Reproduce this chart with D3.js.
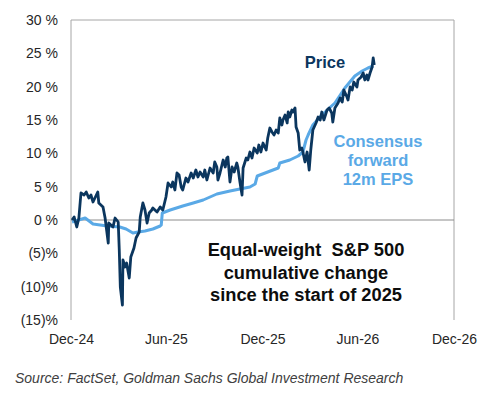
<!DOCTYPE html>
<html>
<head>
<meta charset="utf-8">
<script src="https://cdn.jsdelivr.net/npm/d3@7"></script>
<style>
  body { margin: 0; background: #fff; }
  text { font-family: "Liberation Sans", Arial, sans-serif; }
</style>
</head>
<body>
<script>
// Equal-weight S&P 500, cumulative % change since start of 2025
const priceDates = [
  "2025-01-02","2025-01-06","2025-01-11","2025-01-15","2025-01-19","2025-01-25","2025-01-29","2025-02-03","2025-02-07","2025-02-11",
  "2025-02-20","2025-02-22","2025-03-02","2025-03-06","2025-03-12","2025-03-13","2025-03-21","2025-03-25","2025-03-31","2025-04-02",
  "2025-04-04","2025-04-08","2025-04-09","2025-04-13","2025-04-16","2025-04-21","2025-04-24","2025-04-30","2025-05-04","2025-05-10",
  "2025-05-12","2025-05-17","2025-05-21","2025-05-25","2025-05-29","2025-06-03","2025-06-05","2025-06-13","2025-06-19","2025-06-24",
  "2025-06-30","2025-07-04","2025-07-10","2025-07-13","2025-07-17","2025-07-21","2025-07-25","2025-07-29","2025-08-01","2025-08-07",
  "2025-08-11","2025-08-17","2025-08-21","2025-08-26","2025-08-30","2025-09-03","2025-09-09","2025-09-12","2025-09-16","2025-09-22",
  "2025-09-28","2025-10-01","2025-10-05","2025-10-07","2025-10-11","2025-10-17","2025-10-21","2025-10-24","2025-10-26","2025-10-30",
  "2025-11-03","2025-11-07","2025-11-12","2025-11-14","2025-11-18","2025-11-22","2025-11-24","2025-11-30","2025-12-03","2025-12-07",
  "2025-12-11","2025-12-15","2025-12-21","2025-12-24","2025-12-28","2026-01-01","2026-01-07","2026-01-10","2026-01-14","2026-01-18",
  "2026-01-22","2026-01-26","2026-01-30","2026-02-02","2026-02-06","2026-02-08","2026-02-12","2026-02-16","2026-02-18","2026-02-21",
  "2026-02-25","2026-02-27","2026-03-03","2026-03-05","2026-03-09","2026-03-12","2026-03-16","2026-03-18","2026-03-22","2026-03-26",
  "2026-03-30","2026-04-02","2026-04-06","2026-04-12","2026-04-16","2026-04-20","2026-04-23","2026-04-27","2026-05-03","2026-05-07",
  "2026-05-12","2026-05-14","2026-05-18","2026-05-24","2026-05-28","2026-06-01","2026-06-04","2026-06-10","2026-06-12","2026-06-16",
  "2026-06-20","2026-06-23","2026-06-29","2026-07-01","2026-07-07","2026-07-11","2026-07-14","2026-07-18","2026-07-20","2026-07-24",
  "2026-07-28","2026-07-30","2026-08-01"
];
const priceValues = [
  0.0, 0.45, -1.05, 0.3, 4.05, 3.75, 4.2, 3.3, 3.75, 2.7,
  4.2, 2.55, 1.95, 0.3, -3.45, -0.45, -1.05, 0.3, -0.3, -4.5,
  -10.05, -12.75, -6.0, -7.05, -6.45, -8.7, -5.55, -4.2, -2.7, -1.8,
  0.45, 2.55, 1.5, -0.45, 1.05, 1.5, 1.8, 1.2, 1.95, 1.5,
  3.45, 5.55, 4.95, 5.7, 4.5, 7.05, 6.75, 4.95, 4.5, 6.3,
  5.7, 7.05, 6.3, 7.5, 6.45, 7.2, 6.45, 7.5, 6.0, 7.8,
  7.05, 8.7, 7.95, 6.0, 7.05, 9.0, 7.95, 9.3, 9.45, 5.7,
  7.95, 7.2, 8.55, 7.95, 5.7, 3.75, 7.8, 9.3, 9.0, 10.2,
  9.3, 10.8, 10.05, 11.25, 10.2, 11.55, 10.5, 12.3, 13.8, 13.2,
  12.75, 13.5, 13.05, 15.3, 14.25, 15.0, 15.75, 14.55, 16.2, 15.45,
  16.5, 16.2, 16.8, 13.95, 13.05, 10.5, 10.8, 10.2, 8.7, 10.2,
  7.5, 10.5, 13.5, 14.55, 15.45, 15.0, 16.2, 15.0, 16.5, 16.8,
  16.05, 14.7, 16.8, 17.55, 18.3, 17.7, 19.5, 18.45, 18.0, 19.95,
  19.5, 20.7, 19.95, 21.0, 21.45, 22.05, 21.0, 21.75, 21.0, 22.05,
  22.95, 24.3, 23.25
];

// Consensus forward 12m EPS, cumulative % change
const epsDates = [
  "2025-01-02","2025-01-27","2025-02-11","2025-03-10","2025-04-03","2025-04-15","2025-04-28","2025-05-08","2025-05-21","2025-06-05",
  "2025-06-19","2025-06-21","2025-06-23","2025-07-08","2025-08-01","2025-08-21","2025-09-09","2025-10-05","2025-10-30","2025-11-18",
  "2025-12-07","2025-12-17","2025-12-21","2026-01-10","2026-01-30","2026-02-02","2026-02-21","2026-03-09","2026-03-18","2026-03-24",
  "2026-03-28","2026-04-06","2026-04-23","2026-05-18","2026-06-06","2026-06-25","2026-07-09","2026-07-20","2026-07-30"
];
const epsValues = [
  -0.3, 0.3, -0.6, -0.9, -1.05, -1.35, -1.95, -1.8, -1.65, -1.35,
  -0.9, -0.75, 1.05, 1.5, 2.1, 2.55, 3.0, 3.9, 4.35, 4.65,
  4.95, 5.4, 6.6, 7.2, 7.8, 8.55, 9.0, 9.6, 10.2, 12.0,
  12.75, 14.25, 15.75, 17.55, 19.8, 21.6, 22.35, 22.8, 23.1
];

const yTicks = [30, 25, 20, 15, 10, 5, 0, -5, -10, -15];
const xTickDates = ["2024-12-31","2025-06-30","2025-12-31","2026-06-30","2026-12-31"];
const xTickLabels = ["Dec-24","Jun-25","Dec-25","Jun-26","Dec-26"];

const W = 499, H = 400;
const margin = { top: 20, right: 45, bottom: 80, left: 71 },
    width = W - margin.left - margin.right,
    height = H - margin.top - margin.bottom;

const parse = d3.timeParse("%Y-%m-%d");
const price = priceDates.map((d, i) => ({ date: parse(d), value: priceValues[i] }));
const eps = epsDates.map((d, i) => ({ date: parse(d), value: epsValues[i] }));
const xTicks = xTickDates.map(parse);

const svg = d3.select("body").append("svg")
    .attr("width", W)
    .attr("height", H)
    .attr("xmlns", "http://www.w3.org/2000/svg");

const g = svg.append("g")
    .attr("transform", "translate(" + margin.left + "," + margin.top + ")");

const x = d3.scaleTime()
    .domain([xTicks[0], xTicks[xTicks.length - 1]])
    .range([0, width]);

const y = d3.scaleLinear()
    .domain([-15, 30])
    .range([height, 0]);

const pct = v => v < 0 ? "(" + Math.abs(v) + ")%" : v + " %";

// frame: left, top, right (no bottom line)
g.append("path")
    .attr("d", "M0," + height + "V0H" + width + "V" + height)
    .attr("fill", "none")
    .attr("stroke", "#a6a6a6")
    .attr("stroke-width", 1);

// zero line
g.append("line")
    .attr("x1", 0).attr("x2", width)
    .attr("y1", y(0)).attr("y2", y(0))
    .attr("stroke", "#8c8c8c")
    .attr("stroke-width", 1);

// y axis labels
const yAxis = g.append("g")
    .call(d3.axisLeft(y).tickValues(yTicks).tickFormat(pct).tickSize(0).tickPadding(13));
yAxis.select(".domain").remove();
yAxis.selectAll("text")
    .style("font-family", '"Liberation Sans", Arial, sans-serif')
    .style("font-size", "14px")
    .attr("fill", "#262626");

// x axis labels
const xAxis = g.append("g")
    .attr("transform", "translate(0," + height + ")")
    .call(d3.axisBottom(x).tickValues(xTicks).tickFormat((d, i) => xTickLabels[i]).tickSize(0).tickPadding(14));
xAxis.select(".domain").remove();
xAxis.selectAll("text")
    .style("font-family", '"Liberation Sans", Arial, sans-serif')
    .style("font-size", "14px")
    .attr("fill", "#262626");

const line = d3.line()
    .x(d => x(d.date))
    .y(d => y(d.value));

g.append("path")
    .datum(eps)
    .attr("fill", "none")
    .attr("stroke", "#5aa9e6")
    .attr("stroke-width", 3)
    .attr("stroke-linejoin", "round")
    .attr("d", line);

g.append("path")
    .datum(price)
    .attr("fill", "none")
    .attr("stroke", "#0b365e")
    .attr("stroke-width", 2.8)
    .attr("stroke-linejoin", "round")
    .attr("d", line);

// labels
svg.append("text")
    .attr("x", 325).attr("y", 68)
    .attr("text-anchor", "middle")
    .attr("font-weight", "bold")
    .attr("font-size", 16.5)
    .attr("fill", "#0b365e")
    .text("Price");

const epsLabel = svg.append("text")
    .attr("text-anchor", "middle")
    .attr("font-weight", "bold")
    .attr("font-size", 16.5)
    .attr("fill", "#5aa9e6");
["Consensus", "forward", "12m EPS"].forEach((t, i) => {
    epsLabel.append("tspan").attr("x", 378).attr("y", 147 + i * 19).text(t);
});

const title = svg.append("text")
    .attr("text-anchor", "middle")
    .attr("font-weight", "bold")
    .attr("font-size", 18.3)
    .attr("fill", "#0d0d0d");
["Equal-weight  S&P 500", "cumulative change", "since the start of 2025"].forEach((t, i) => {
    title.append("tspan").attr("x", 306).attr("y", 256 + i * 22.5).text(t);
});
title.style("white-space", "pre");

svg.append("text")
    .attr("x", 15).attr("y", 383)
    .attr("font-style", "italic")
    .attr("font-size", 14)
    .attr("fill", "#404040")
    .text("Source: FactSet, Goldman Sachs Global Investment Research");
</script>
</body>
</html>
